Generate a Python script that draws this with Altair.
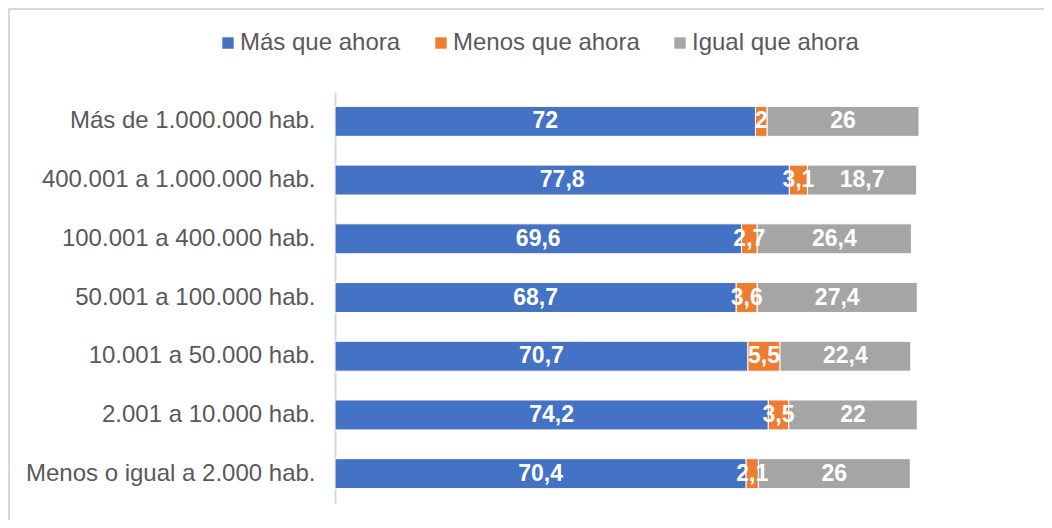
import altair as alt
import pandas as pd

categories = [
    "Más de 1.000.000 hab.",
    "400.001 a 1.000.000 hab.",
    "100.001 a 400.000 hab.",
    "50.001 a 100.000 hab.",
    "10.001 a 50.000 hab.",
    "2.001 a 10.000 hab.",
    "Menos o igual a 2.000 hab.",
]
series = ["Más que ahora", "Menos que ahora", "Igual que ahora"]
mas = [72, 77.8, 69.6, 68.7, 70.7, 74.2, 70.4]
menos = [2, 3.1, 2.7, 3.6, 5.5, 3.5, 2.1]
igual = [26, 18.7, 26.4, 27.4, 22.4, 22, 26]
colors = ["#4472C4", "#ED7D31", "#A5A5A5"]

rows = []
for i, c in enumerate(categories):
    for j, (s, vals) in enumerate(zip(series, [mas, menos, igual])):
        v = vals[i]
        rows.append({"cat": c, "serie": s, "order": j, "value": v,
                     "label": f"{v:g}".replace(".", ",")})
df = pd.DataFrame(rows)

W, H = 584, 411
FONT = "Liberation Sans"

base = alt.Chart(df).transform_stack(
    stack="value", groupby=["cat"], sort=[alt.SortField("order")], as_=["x0", "x1"]
).transform_calculate(mid="(datum.x0 + datum.x1) / 2")

yenc = alt.Y(
    "cat:N", sort=categories,
    scale=alt.Scale(paddingInner=0.49, paddingOuter=0.245),
    axis=alt.Axis(title=None, labelFontSize=24, labelFont=FONT, labelColor="#595959",
                  ticks=False, domainColor="#D9D9D9", domainWidth=2,
                  labelPadding=20, labelLimit=500),
)

bars = base.mark_bar(stroke="white", strokeWidth=1).encode(
    y=yenc,
    x=alt.X("x0:Q", scale=alt.Scale(domain=[0, 100]), axis=None),
    x2="x1:Q",
    color=alt.Color(
        "serie:N",
        scale=alt.Scale(domain=series, range=colors),
        legend=alt.Legend(
            title=None, orient="none", legendX=-119, legendY=-61,
            direction="horizontal", symbolType="square", symbolSize=130,
            symbolStrokeWidth=0, labelFontSize=24, labelFont=FONT,
            labelColor="#595959", columnPadding=28, labelOffset=0,
            labelLimit=500,
        ),
    ),
)

text = base.mark_text(color="white", fontWeight="bold", fontSize=23, font=FONT).encode(
    y=alt.Y("cat:N", sort=categories),
    x=alt.X("mid:Q"),
    text="label:N",
)

border_left = alt.Chart(alt.Data(values=[{"a": 0}])).mark_rule(
    color="#D9D9D9", strokeWidth=2
).encode(x=alt.value(-326), y=alt.value(-84), y2=alt.value(H + 17))

border_top = alt.Chart(alt.Data(values=[{"a": 0}])).mark_rule(
    color="#D9D9D9", strokeWidth=2
).encode(x=alt.value(-327), x2=alt.value(W + 125), y=alt.value(-83))

chart = alt.layer(bars, text, border_left, border_top).properties(
    width=W, height=H,
    autosize=alt.AutoSizeParams(type="none"),
    padding={"left": 327, "top": 84, "right": 125, "bottom": 17},
    background="white",
).configure_view(stroke=None)

chart.save("out.html", embed_options={"renderer": "svg", "actions": False})
